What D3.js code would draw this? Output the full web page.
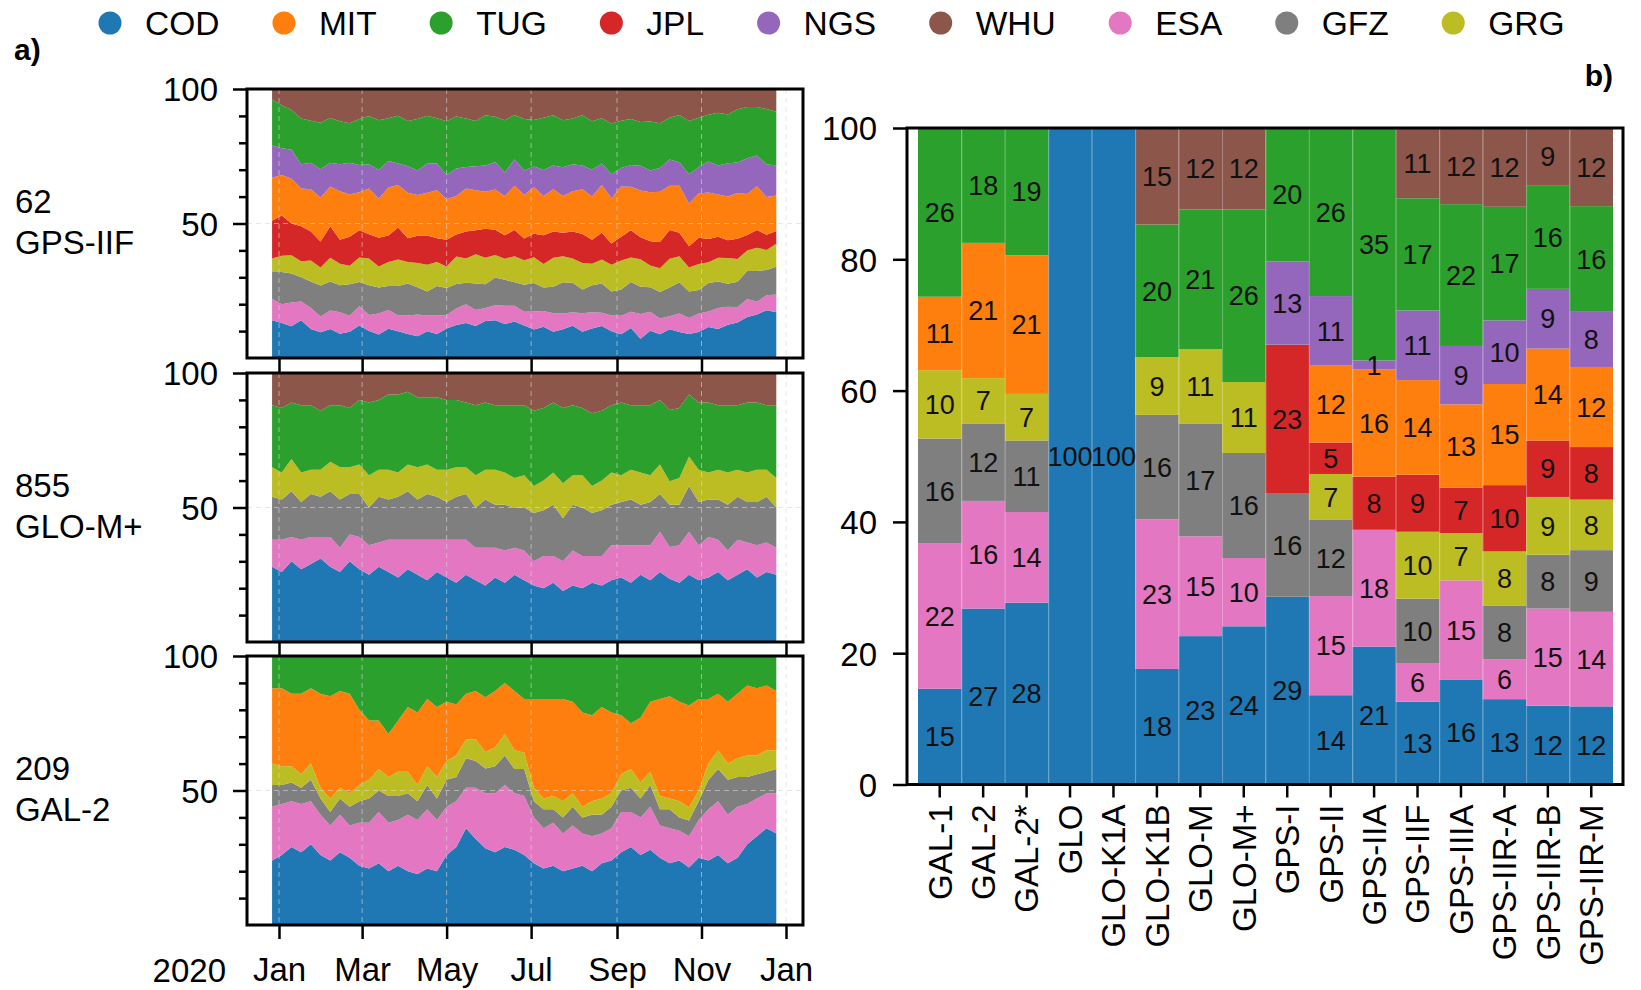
<!DOCTYPE html>
<html>
<head>
<meta charset="utf-8">
<script src="https://cdn.jsdelivr.net/npm/d3@7"></script>
<style>
  body { margin: 0; background: #fff; }
  svg { display: block; font-family: "Liberation Sans", Arial, Helvetica, sans-serif; }
</style>
</head>
<body>
<svg id="chart" width="1641" height="990"></svg>
<script>
// ---- analysis centres ----
const legendOrder = ["COD", "MIT", "TUG", "JPL", "NGS", "WHU", "ESA", "GFZ", "GRG"];
const stackOrder  = ["COD", "ESA", "GFZ", "GRG", "JPL", "MIT", "NGS", "TUG", "WHU"];
const acColors = {
  COD: "#1f77b4", MIT: "#ff7f0e", TUG: "#2ca02c", JPL: "#d62728", NGS: "#9467bd",
  WHU: "#8c564b", ESA: "#e377c2", GFZ: "#7f7f7f", GRG: "#bcbd22"
};

// ---- a) weekly contribution shares (%) for three satellites, first week starts 2019-12-27 ----
const weekStart = new Date(2019, 11, 27);
const weekCount = 53;

// 62 GPS-IIF
const gps62COD = [14,13,12,14,11,10,11,9,10,12,10,9,11,10,9,8,10,9,11,12,13,12,14,15,13,14,12,11,12,10,11,12,10,11,12,10,9,11,7,10,9,11,10,9,10,12,11,13,14,16,17,19,18];
const gps62ESA = [8,7,9,7,8,6,7,8,6,7,6,8,7,6,7,8,6,7,5,6,7,6,5,6,7,6,5,7,6,7,6,5,7,6,5,6,7,6,9,7,6,5,7,6,7,6,8,7,6,7,5,6,7];
const gps62GFZ = [10,12,11,9,10,12,11,10,12,9,11,10,9,11,12,10,9,11,10,9,8,10,9,11,10,9,10,11,9,10,12,11,9,10,11,9,10,11,10,9,10,11,12,10,9,11,10,9,10,11,12,10,11];
const gps62GRG = [5,6,7,6,8,7,9,8,7,9,10,8,9,10,8,9,10,9,8,10,9,11,10,9,8,10,9,10,9,11,10,9,10,8,9,10,11,9,10,8,9,11,10,9,10,8,9,10,9,8,9,8,9];
const gps62JPL = [14,15,12,13,11,10,12,9,11,10,9,11,10,12,9,10,11,9,10,8,10,9,11,10,9,10,8,9,11,10,9,10,11,9,10,8,9,10,8,9,10,11,9,8,10,9,8,7,8,6,7,6,5];
const gps62MIT = [16,15,17,14,16,17,15,18,16,14,17,15,18,16,17,15,16,18,15,14,16,15,14,16,15,17,16,18,15,16,14,15,17,16,18,17,19,16,17,18,19,17,18,16,17,18,16,17,18,16,17,15,14];
const gps62NGS = [12,10,11,9,10,11,9,10,12,10,9,11,10,8,10,9,11,10,9,10,8,9,10,11,9,10,9,8,10,9,11,10,9,10,8,9,7,8,9,8,9,10,9,11,10,12,11,13,12,14,12,13,12];
const gps62TUG = [17,16,15,17,16,18,17,16,15,17,18,19,16,18,17,19,18,17,20,19,18,17,19,18,20,17,19,18,20,19,18,17,19,18,17,19,18,17,16,18,17,16,18,20,19,18,20,19,21,20,19,22,21];
const gps62WHU = [4,6,8,11,12,13,11,12,13,11,10,12,11,10,12,11,10,11,12,10,11,12,10,11,12,10,11,12,11,10,12,11,10,12,11,13,12,11,12,12,13,11,10,12,11,10,9,10,8,7,7,8,9];

// 855 GLO-M+
const glo855COD = [28,26,30,27,29,31,28,26,30,27,25,28,26,24,27,25,23,26,24,22,25,23,21,24,22,25,23,21,20,22,19,21,20,22,21,23,24,22,25,23,26,24,22,25,23,24,26,23,25,27,24,26,25];
const glo855ESA = [10,12,9,11,10,8,11,9,10,12,11,9,12,14,11,13,15,12,14,16,13,12,14,11,12,10,11,9,12,10,11,13,12,10,11,13,12,14,11,13,15,12,14,16,13,15,12,11,13,10,12,11,10];
const glo855GFZ = [16,15,17,14,16,15,17,18,15,16,14,17,15,16,18,15,17,16,14,16,17,15,18,16,17,15,16,18,17,19,16,17,18,16,17,15,16,17,15,16,14,16,15,17,16,14,15,17,16,15,16,17,15];
const glo855GRG = [11,10,12,11,9,10,11,12,10,11,12,10,11,9,10,12,11,10,12,11,10,12,11,13,12,11,12,10,11,12,13,11,12,10,11,12,10,11,12,10,11,9,10,11,12,10,11,12,10,11,12,10,11];
const glo855TUG = [23,24,21,25,24,22,21,23,22,24,27,26,28,29,27,26,25,27,26,25,24,26,25,24,25,27,26,28,27,26,28,26,25,27,26,25,27,24,25,26,24,27,26,23,25,26,24,25,24,26,25,24,27];
const glo855WHU = [12,13,11,12,12,14,12,12,13,10,11,10,8,8,7,9,9,9,10,10,11,12,11,12,12,12,12,14,13,11,13,12,13,15,14,12,11,12,12,12,10,14,13,8,11,11,12,12,12,11,11,12,12];

// 209 GAL-2
const gal209COD = [24,26,29,27,30,26,24,27,25,22,21,23,20,22,20,19,21,20,26,29,36,32,28,27,29,28,26,23,21,22,20,21,22,20,23,24,27,29,26,28,25,23,24,22,25,24,26,23,25,30,33,36,34];
const gal209ESA = [20,19,17,18,16,15,13,14,12,16,17,19,18,17,21,20,22,19,18,17,15,19,20,22,23,21,22,17,15,16,14,16,12,13,11,12,15,13,14,16,12,13,11,12,14,19,20,18,19,15,14,13,15];
const gal209GFZ = [8,7,7,6,8,6,5,6,7,8,9,8,10,9,8,7,9,8,10,9,11,10,9,10,11,9,10,6,7,5,6,7,6,8,7,8,8,9,7,8,6,7,5,6,7,11,12,13,11,10,9,8,9];
const gal209GRG = [8,7,6,5,6,4,5,4,5,6,7,8,7,9,8,6,7,8,7,8,7,8,6,7,8,7,6,5,4,5,6,5,4,5,6,5,6,7,6,5,5,4,6,5,4,6,7,6,7,8,7,8,7];
const gal209MIT = [28,29,27,30,28,35,38,36,37,28,22,18,16,19,24,27,25,26,22,19,17,18,20,21,19,22,20,33,37,36,38,34,35,32,34,30,22,17,24,26,36,38,37,39,34,24,21,23,24,26,25,24,22];
const gal209TUG = [12,12,14,14,12,14,15,13,14,20,24,24,29,24,19,21,16,19,17,18,14,13,15,13,10,13,16,16,16,16,16,17,21,22,19,21,22,25,23,17,16,15,17,19,16,16,14,17,14,11,12,11,13];

const panelNumbers = ["62", "855", "209"];
const panelBlocks  = ["GPS-IIF", "GLO-M+", "GAL-2"];
const panelSeries = [
  { COD: gps62COD, ESA: gps62ESA, GFZ: gps62GFZ, GRG: gps62GRG, JPL: gps62JPL, MIT: gps62MIT, NGS: gps62NGS, TUG: gps62TUG, WHU: gps62WHU },
  { COD: glo855COD, ESA: glo855ESA, GFZ: glo855GFZ, GRG: glo855GRG, TUG: glo855TUG, WHU: glo855WHU },
  { COD: gal209COD, ESA: gal209ESA, GFZ: gal209GFZ, GRG: gal209GRG, MIT: gal209MIT, TUG: gal209TUG }
];
const monthTicks = [new Date(2020,0,1), new Date(2020,2,1), new Date(2020,4,1), new Date(2020,6,1),
                    new Date(2020,8,1), new Date(2020,10,1), new Date(2021,0,1)];

// ---- b) yearly shares (%) per satellite block ----
const blocks = ["GAL-1","GAL-2","GAL-2*","GLO","GLO-K1A","GLO-K1B","GLO-M","GLO-M+","GPS-I","GPS-II","GPS-IIA","GPS-IIF","GPS-IIIA","GPS-IIR-A","GPS-IIR-B","GPS-IIR-M"];
const shareCOD = [14.6,26.8,27.7,100,100,17.6,22.6,24.1,28.6,13.6,21.0,12.6,16.0,13.0,12.0,11.9];
const shareESA = [22.1,16.4,13.8,0,0,22.8,15.2,10.4,0,15.1,17.8,5.9,15.1,6.1,14.8,14.4];
const shareGFZ = [16.0,11.8,10.9,0,0,15.9,17.2,16.0,15.8,11.6,0,9.8,0,8.1,8.2,9.4];
const shareGRG = [10.4,6.9,7.1,0,0,8.8,11.3,10.8,0,7.0,0,10.2,7.2,8.3,8.8,7.7];
const shareJPL = [0,0,0,0,0,0,0,0,22.6,4.8,8.1,8.7,6.9,10.1,8.6,8.0];
const shareMIT = [11.2,20.6,21.1,0,0,0,0,0,0,11.7,16.3,14.4,12.7,15.4,14.0,12.2];
const shareNGS = [0,0,0,0,0,0,0,0,12.7,10.6,1.4,10.6,8.9,9.7,9.1,8.4];
const shareTUG = [25.7,17.5,19.4,0,0,20.2,21.3,26.3,20.3,25.6,35.4,17.1,21.6,17.3,15.8,16.1];
const shareWHU = [0,0,0,0,0,14.7,12.4,12.4,0,0,0,10.7,11.6,12.0,8.7,11.9];
const blockShares = { COD: shareCOD, ESA: shareESA, GFZ: shareGFZ, GRG: shareGRG, JPL: shareJPL,
                      MIT: shareMIT, NGS: shareNGS, TUG: shareTUG, WHU: shareWHU };

// ================= drawing =================
const svg = d3.select("#chart");
const FS = 33;

// ---- legend ----
const legend = svg.append("g").attr("class", "legend");
let lx = 110;
legendOrder.forEach(k => {
  legend.append("circle").attr("cx", lx).attr("cy", 23).attr("r", 11.5).attr("fill", acColors[k]);
  const t = legend.append("text").attr("x", lx + 35).attr("y", 35).attr("font-size", 33.5).text(k);
  lx = lx + 35 + t.node().getComputedTextLength() + 64.5;
});

// ---- panel a) ----
svg.append("text").attr("x", 14).attr("y", 60).attr("font-size", 30).attr("font-weight", "bold").text("a)");

const ax0 = 247, ax1 = 803;
const panelTops = [89, 373, 656];
const panelH = 269;
const xTime = d3.scaleTime().domain([new Date(2020,0,1), new Date(2021,0,1)]).range([279, 786]);
const weeks = d3.range(weekCount).map(i => d3.timeDay.offset(weekStart, 7 * i));

panelSeries.forEach((series, p) => {
  const top = panelTops[p];
  const y = d3.scaleLinear().domain([0, 100]).range([top + panelH, top]);
  const keys = stackOrder.filter(k => series[k]);
  const rows = weeks.map((d, i) => {
    const r = { date: d };
    keys.forEach(k => { r[k] = series[k][i]; });
    return r;
  });
  const stacked = d3.stack().keys(keys).offset(d3.stackOffsetExpand)(rows);
  const area = d3.area()
    .x(d => xTime(d.data.date))
    .y0(d => y(d[0] * 100))
    .y1(d => y(d[1] * 100));
  const g = svg.append("g");
  g.selectAll("path.layer").data(stacked).join("path")
    .attr("class", "layer")
    .attr("fill", d => acColors[d.key])
    .attr("d", area);

  // grid
  g.selectAll("line.vgrid").data(monthTicks).join("line")
    .attr("x1", d => xTime(d)).attr("x2", d => xTime(d))
    .attr("y1", top).attr("y2", top + panelH)
    .attr("stroke", "#d8d8d8").attr("stroke-width", 1).attr("stroke-dasharray", "5,4").attr("opacity", 0.6);
  g.append("line").attr("x1", ax0).attr("x2", ax1).attr("y1", y(50)).attr("y2", y(50))
    .attr("stroke", "#d8d8d8").attr("stroke-width", 1).attr("stroke-dasharray", "5,4").attr("opacity", 0.6);

  // y axis: major and minor ticks
  const yMajor = d3.axisLeft(y).tickValues([50, 100]).tickSize(14).tickPadding(15);
  const yMinor = d3.axisLeft(y).tickValues([10, 20, 30, 40, 60, 70, 80, 90]).tickSize(8).tickFormat("");
  const gy = svg.append("g").attr("transform", `translate(${ax0},0)`).call(yMajor);
  gy.selectAll("text").attr("font-size", FS).attr("font-family", null).attr("fill", "#000").attr("dy", "0.36em");
  const gym = svg.append("g").attr("transform", `translate(${ax0},0)`).call(yMinor);
  [gy, gym].forEach(a => {
    a.select(".domain").remove();
    a.selectAll("line").attr("stroke", "#000").attr("stroke-width", 2.5);
  });

  // x axis ticks below each panel
  const xAxis = d3.axisBottom(xTime).tickValues(monthTicks).tickSize(14).tickPadding(19)
    .tickFormat(p === 2 ? d3.timeFormat("%b") : "");
  const gx = svg.append("g").attr("transform", `translate(0,${top + panelH})`).call(xAxis);
  gx.select(".domain").remove();
  gx.selectAll("line").attr("stroke", "#000").attr("stroke-width", 2.5);
  gx.selectAll("text").attr("font-size", FS).attr("font-family", null).attr("fill", "#000");

  // frame
  svg.append("rect").attr("x", ax0).attr("y", top).attr("width", ax1 - ax0).attr("height", panelH)
    .attr("fill", "none").attr("stroke", "#000").attr("stroke-width", 3);

  // satellite labels
  const mid = top + panelH / 2;
  svg.append("text").attr("x", 15).attr("y", mid - 11).attr("font-size", FS).text(panelNumbers[p]);
  svg.append("text").attr("x", 15).attr("y", mid + 30).attr("font-size", FS).text(panelBlocks[p]);
});
svg.append("text").attr("x", 226).attr("y", 982).attr("font-size", FS).attr("text-anchor", "end").text("2020");

// ---- panel b) ----
svg.append("text").attr("x", 1613).attr("y", 86).attr("font-size", 30).attr("font-weight", "bold")
  .attr("text-anchor", "end").text("b)");

const bx0 = 907, bx1 = 1623, bTop = 128, bBot = 784.5;
const xBand = d3.scaleBand().domain(blocks).range([918, 1613]).padding(0);
const yB = d3.scaleLinear().domain([0, 100]).range([bBot, bTop]);
const barRows = blocks.map((b, i) => {
  const r = { block: b };
  stackOrder.forEach(k => { r[k] = blockShares[k][i]; });
  return r;
});
const barStack = d3.stack().keys(stackOrder)(barRows);

const gb = svg.append("g");
barStack.forEach(layer => {
  gb.append("g").selectAll("rect").data(layer.filter(d => d[1] - d[0] > 0)).join("rect")
    .attr("x", d => xBand(d.data.block))
    .attr("width", xBand.bandwidth())
    .attr("y", d => yB(d[1]))
    .attr("height", d => yB(d[0]) - yB(d[1]))
    .attr("fill", acColors[layer.key]);
});
// thin separators between bars
gb.selectAll("line.sep").data(blocks.slice(1)).join("line")
  .attr("x1", d => xBand(d) + 0.5).attr("x2", d => xBand(d) + 0.5)
  .attr("y1", bTop).attr("y2", bBot)
  .attr("stroke", "#fff").attr("stroke-opacity", 0.25).attr("stroke-width", 1);
// value labels
barStack.forEach(layer => {
  gb.append("g").selectAll("text").data(layer.filter(d => d[1] - d[0] > 0)).join("text")
    .attr("x", d => xBand(d.data.block) + xBand.bandwidth() / 2)
    .attr("y", d => yB((d[0] + d[1]) / 2))
    .attr("dy", "0.36em")
    .attr("text-anchor", "middle")
    .attr("font-size", 27)
    .attr("fill", "#111")
    .text(d => Math.round(d[1] - d[0]));
});

const yAxisB = d3.axisLeft(yB).tickValues([0, 20, 40, 60, 80, 100]).tickSize(14).tickPadding(16);
const gyb = svg.append("g").attr("transform", `translate(${bx0},0)`).call(yAxisB);
gyb.select(".domain").remove();
gyb.selectAll("line").attr("stroke", "#000").attr("stroke-width", 2.5);
gyb.selectAll("text").attr("font-size", FS).attr("font-family", null).attr("fill", "#000").attr("dy", "0.36em");

const xAxisB = d3.axisBottom(xBand).tickSize(13).tickPadding(8);
const gxb = svg.append("g").attr("transform", `translate(0,${bBot})`).call(xAxisB);
gxb.select(".domain").remove();
gxb.selectAll("line").attr("stroke", "#000").attr("stroke-width", 2.5);
gxb.selectAll("text")
  .attr("font-size", FS).attr("font-family", null).attr("fill", "#000")
  .attr("text-anchor", "end")
  .attr("transform", "rotate(-90)")
  .attr("x", -20).attr("y", 0).attr("dy", "0.36em");

svg.append("rect").attr("x", bx0).attr("y", bTop).attr("width", bx1 - bx0).attr("height", bBot - bTop)
  .attr("fill", "none").attr("stroke", "#000").attr("stroke-width", 3);
</script>
</body>
</html>
